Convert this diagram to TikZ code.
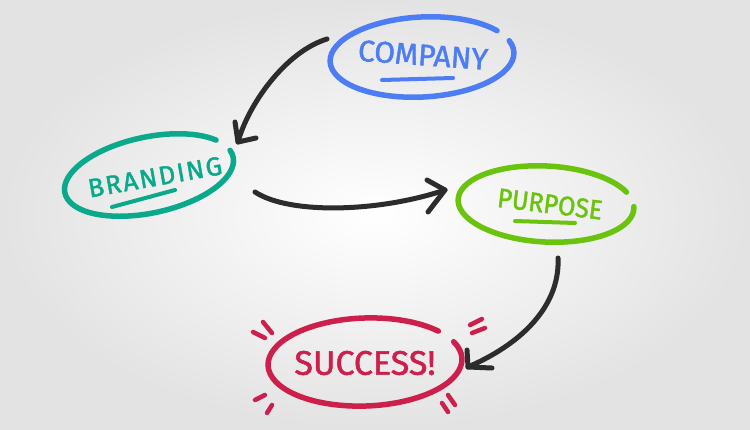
\documentclass[tikz,border=0pt]{standalone}
\usepackage{fontspec}
\setmainfont{Fira Sans}[FakeBold=1.6,AutoFakeBold=1.6]
\usepackage{graphicx}
\definecolor{cblue}{HTML}{4D7DF5}
\definecolor{cteal}{HTML}{0AA98B}
\definecolor{cgreen}{HTML}{6AC30C}
\definecolor{cred}{HTML}{CD1F4B}
\definecolor{ink}{HTML}{2C2C2C}
\begin{document}
\begin{tikzpicture}[x=1pt,y=-1pt,
  ring/.style={line width=5.5pt, line cap=round},
  link/.style={ink, line width=5pt, line cap=round, line join=round},
  uline/.style={line width=4pt, line cap=round},
  burst/.style={cred, line width=4.5pt, line cap=round},
  lbl/.style={inner sep=0pt}]
\shade[inner color=white, outer color=black!11] (0,0) rectangle (750,429);
\useasboundingbox (0,0) rectangle (750,429);

% ellipses
\begin{scope}[shift={(422,57)}, rotate=3]
  \draw[ring, cblue] (-17:92 and 40) arc[start angle=-17, end angle=326, x radius=92, y radius=40];
\end{scope}
\begin{scope}[shift={(149,175)}, rotate=12]
  \draw[ring, cteal] (-11:86 and 38) arc[start angle=-11, end angle=328, x radius=86, y radius=38];
\end{scope}
\begin{scope}[shift={(546,204)}, rotate=-3]
  \draw[ring, cgreen] (-3:88 and 38) arc[start angle=-3, end angle=335, x radius=88, y radius=38];
\end{scope}
\begin{scope}[shift={(365,362)}, rotate=2]
  \draw[ring, cred] (-23:97 and 44) arc[start angle=-23, end angle=320, x radius=97, y radius=44];
\end{scope}

% labels
\node[lbl, cblue, rotate=-4, font=\fontsize{30}{30}\selectfont\bfseries] (company) at (423,55) {COMPANY};
\node[lbl, cteal, rotate=10, font=\fontsize{26}{26}\selectfont\bfseries\addfontfeature{LetterSpace=7}] (branding) at (155,177) {BRANDING};
\node[lbl, cgreen, rotate=-7, font=\fontsize{27}{27}\selectfont\bfseries] (purpose) at (550,204) {\scalebox{0.93}[1]{PURPOSE}};
\node[lbl, cred, font=\fontsize{34}{34}\selectfont\bfseries] (success) at (365,363) {SUCCESS!};

% underlines
\draw[uline, cblue] (382,80) -- (453,78);
\draw[uline, cteal] (112,207) -- (175,190);
\draw[uline, cgreen] (515,221) -- (575,223);

% bursts
\draw[burst] (263,322) -- (272,333);
\draw[burst] (253,332) -- (265,338);
\draw[burst] (470,325) -- (482,319);
\draw[burst] (472,333) -- (485,328);
\draw[burst] (255,400) -- (265,395);
\draw[burst] (267,413) -- (272,405);
\draw[burst] (442,403) -- (448,412);
\draw[burst] (448,395) -- (455,405);

% arrows
\coordinate (a1s) at (327,39);
\coordinate (a1e) at (238,142);
\coordinate (a1l) at (235,122);
\coordinate (a1r) at (256,138);
\draw[link] (a1s) .. controls (285,52) and (248,105) .. (a1e);
\draw[link] (a1l) -- (a1e) -- (a1r);

\coordinate (a2s) at (255,192);
\coordinate (a2e) at (445,190);
\coordinate (a2l) at (427,180);
\coordinate (a2r) at (428,212);
\draw[link] (a2s) .. controls (290,215) and (380,212) .. (a2e);
\draw[link] (a2l) -- (a2e) -- (a2r);

\coordinate (a3s) at (558,258);
\coordinate (a3e) at (468,367);
\coordinate (a3l) at (467,350);
\coordinate (a3r) at (492,368);
\draw[link] (a3s) .. controls (560,300) and (530,340) .. (a3e);
\draw[link] (a3l) -- (a3e) -- (a3r);
\end{tikzpicture}
\end{document}
